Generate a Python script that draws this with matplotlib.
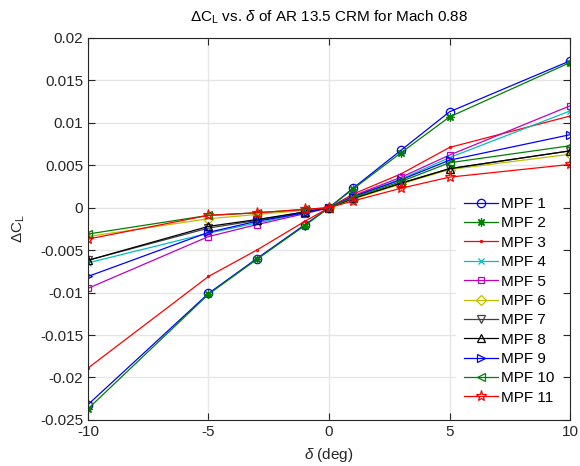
import matplotlib
matplotlib.use("Agg")
import matplotlib.pyplot as plt

plt.rcParams['font.family'] = ['Liberation Sans', 'DejaVu Sans']
plt.rcParams['mathtext.fontset'] = 'custom'
plt.rcParams['mathtext.rm'] = 'Liberation Sans'
plt.rcParams['mathtext.it'] = 'Liberation Sans:italic'

delta = [-10, -5, -3, -1, 0, 1, 3, 5, 10]

mpf1 = [-0.0232, -0.0101, -0.0060, -0.0020, 0, 0.0023, 0.0068, 0.0113, 0.0173]
mpf2 = [-0.0237, -0.0102, -0.0061, -0.0021, 0, 0.0022, 0.0065, 0.0107, 0.0171]
mpf3 = [-0.0189, -0.0081, -0.0050, -0.0016, 0, 0.0016, 0.0040, 0.0071, 0.0108]
mpf4 = [-0.0065, -0.0030, -0.0018, -0.0006, 0, 0.0013, 0.0034, 0.0059, 0.0114]
mpf5 = [-0.0095, -0.0034, -0.0020, -0.0007, 0, 0.0014, 0.0036, 0.0062, 0.0120]
mpf6 = [-0.0034, -0.0013, -0.0008, -0.0003, 0, 0.0010, 0.0028, 0.0045, 0.0063]
mpf7 = [-0.0062, -0.0024, -0.0015, -0.0005, 0, 0.0011, 0.0029, 0.0046, 0.0067]
mpf8 = [-0.0062, -0.0022, -0.0014, -0.0005, 0, 0.0011, 0.0029, 0.0046, 0.0067]
mpf9 = [-0.0081, -0.0029, -0.0016, -0.0006, 0, 0.0013, 0.0033, 0.0056, 0.0086]
mpf10 = [-0.0031, -0.0009, -0.0006, -0.0002, 0, 0.0012, 0.0031, 0.0053, 0.0073]
mpf11 = [-0.0037, -0.0009, -0.0006, -0.0002, 0, 0.0008, 0.0023, 0.0036, 0.0051]

series = [mpf1, mpf2, mpf3, mpf4, mpf5, mpf6, mpf7, mpf8, mpf9, mpf10, mpf11]
labels = ['MPF 1', 'MPF 2', 'MPF 3', 'MPF 4', 'MPF 5', 'MPF 6', 'MPF 7',
          'MPF 8', 'MPF 9', 'MPF 10', 'MPF 11']
colors = ['#0000ff', '#008000', '#ff0000', '#00bfbf', '#bf00bf', '#bfbf00',
          '#404040', '#000000', '#0000ff', '#008000', '#ff0000']
markers = ['o', (8, 2, 0), '.', 'x', 's', 'D', 'v', '^', '>', '<', '*']
msizes = [6, 6, 3, 5, 5, 5, 6, 6, 6, 6, 8]

xticks = [-10, -5, 0, 5, 10]
yticks = [-0.025, -0.02, -0.015, -0.01, -0.005, 0, 0.005, 0.01, 0.015, 0.02]
ytick_labels = ['-0.025', '-0.02', '-0.015', '-0.01', '-0.005', '0',
                '0.005', '0.01', '0.015', '0.02']

fig = plt.figure(figsize=(5.8, 4.66), dpi=100)
ax = fig.add_axes([0.1517, 0.099, 0.8311, 0.8195])

for y, lab, c, m, ms in zip(series, labels, colors, markers, msizes):
    ax.plot(delta, y, color=c, marker=m, markersize=ms, markerfacecolor='none',
            markeredgecolor=c, markeredgewidth=0.9, linewidth=0.9, label=lab)

ax.set_xlim(-10, 10)
ax.set_ylim(-0.025, 0.02)
ax.set_xticks(xticks)
ax.set_xticklabels([str(t) for t in xticks])
ax.set_yticks(yticks)
ax.set_yticklabels(ytick_labels)
ax.tick_params(direction='in', top=True, right=True, labelsize=11,
               colors='#262626', length=5, width=0.8)
ax.grid(True, color='#e6e6e6', linewidth=1.0)
ax.set_axisbelow(True)
for s in ax.spines.values():
    s.set_color('#262626')
    s.set_linewidth(0.8)

ax.set_xlabel(r'$\delta$ (deg)', fontsize=11, color='#262626', labelpad=5)
ax.set_ylabel(r'$\Delta$C$_\mathrm{L}$', fontsize=11, color='#262626', labelpad=9)
ax.set_title(r'$\Delta$C$_\mathrm{L}$ vs. $\delta$ of AR 13.5 CRM for Mach 0.88',
             fontsize=11, color='#000000', pad=12)

leg = ax.legend(loc='lower right', fontsize=11, frameon=True, fancybox=False,
                edgecolor='white', facecolor='white', framealpha=1.0,
                handlelength=2.2, labelspacing=0.35, borderaxespad=0.5,
                handletextpad=0.25, borderpad=0.5)

fig.savefig('out.png', dpi=100)
